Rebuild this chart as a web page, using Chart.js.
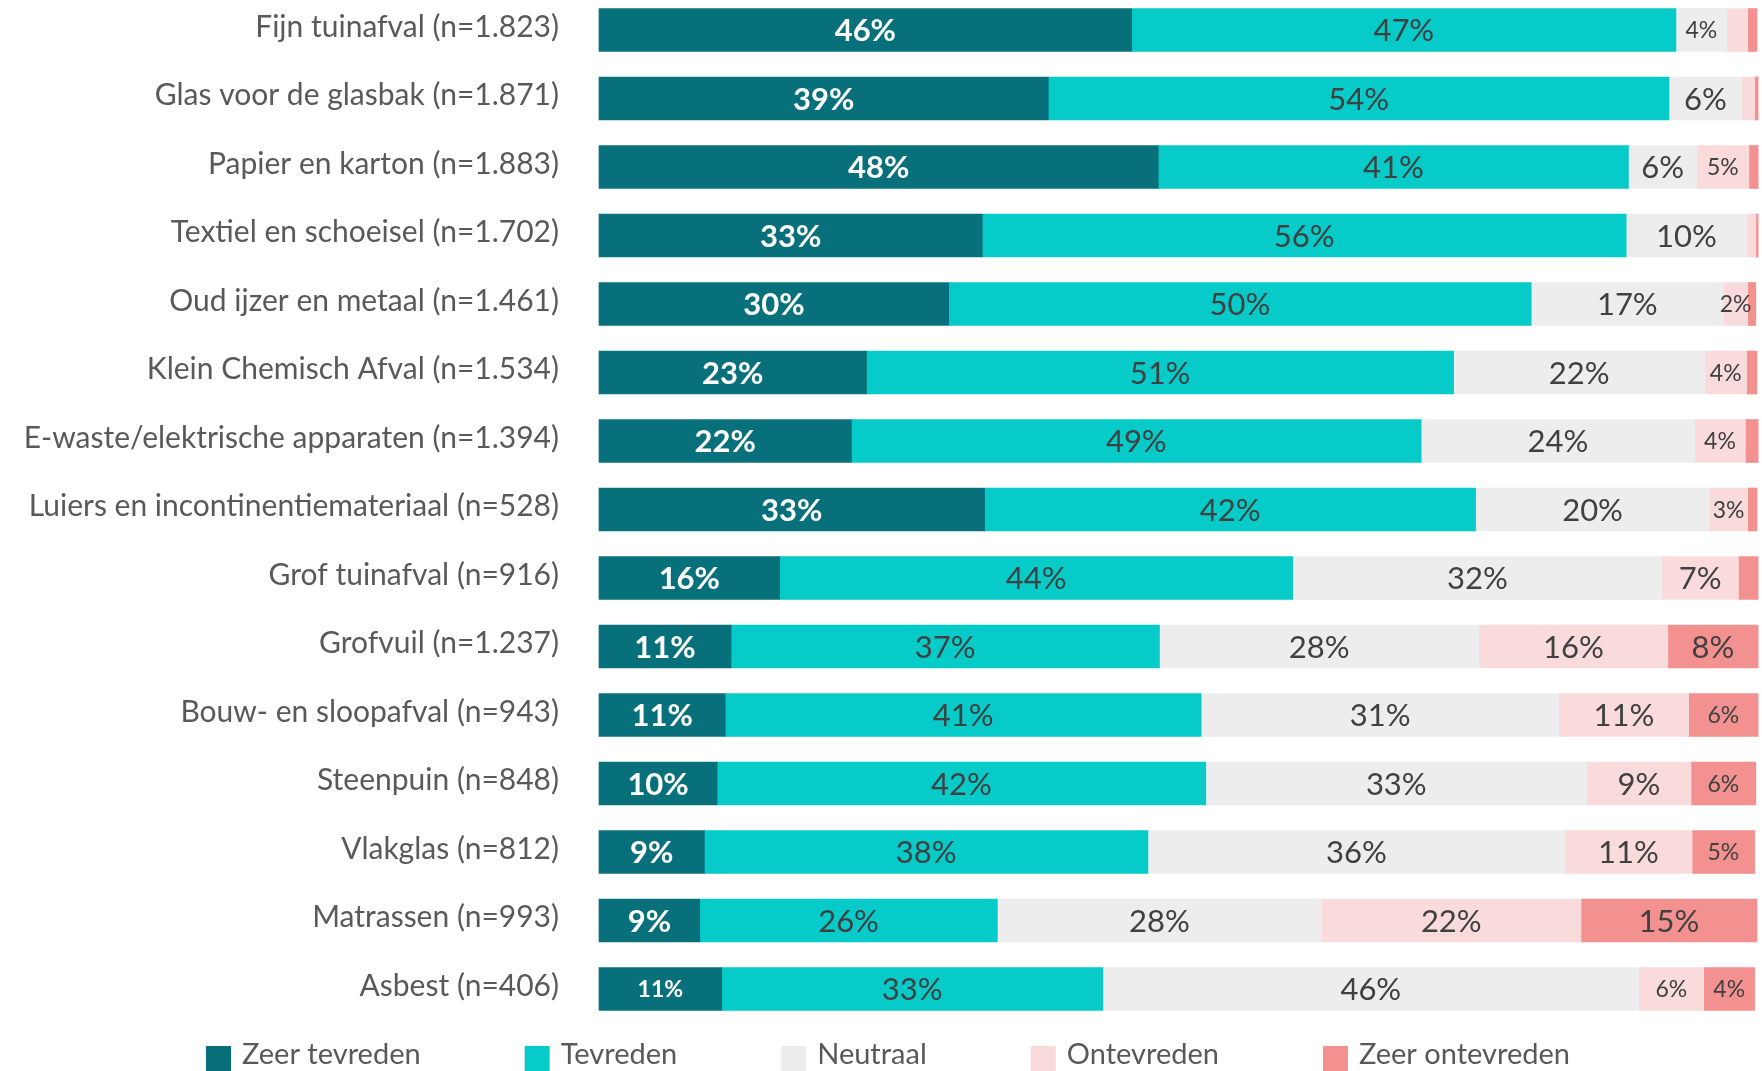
<!DOCTYPE html>
<html>
<head>
<meta charset="utf-8">
<script src="https://cdn.jsdelivr.net/npm/chart.js@4.4.1/dist/chart.umd.min.js"></script>
<style>
  html, body { margin: 0; padding: 0; background: #fff; }
  #wrap { width: 1762px; height: 1071px; position: relative; }
</style>
</head>
<body>
<div id="wrap"><canvas id="grafiek"></canvas></div>
<script>
const CATEGORIES = [
  "Fijn tuinafval (n=1.823)",
  "Glas voor de glasbak (n=1.871)",
  "Papier en karton (n=1.883)",
  "Textiel en schoeisel (n=1.702)",
  "Oud ijzer en metaal (n=1.461)",
  "Klein Chemisch Afval (n=1.534)",
  "E-waste/elektrische apparaten (n=1.394)",
  "Luiers en incontinentiemateriaal (n=528)",
  "Grof tuinafval (n=916)",
  "Grofvuil (n=1.237)",
  "Bouw- en sloopafval (n=943)",
  "Steenpuin (n=848)",
  "Vlakglas (n=812)",
  "Matrassen (n=993)",
  "Asbest (n=406)"
];

const ZEER_TEVREDEN   = [46.0, 38.8, 48.3, 33.1, 30.2, 23.1, 21.8, 33.3, 15.6, 11.4, 10.9, 10.2, 9.1, 8.7, 10.6];
const TEVREDEN        = [47.0, 53.6, 40.6, 55.6, 50.3, 50.7, 49.2, 42.4, 44.3, 37.0, 41.1, 42.2, 38.3, 25.7, 32.9];
const NEUTRAAL        = [4.4, 6.3, 5.9, 10.4, 16.6, 21.7, 23.6, 20.2, 31.9, 27.6, 30.9, 32.9, 36.0, 28.0, 46.3];
const ONTEVREDEN      = [1.8, 1.1, 4.5, 0.8, 2.1, 3.6, 4.4, 3.3, 6.6, 16.3, 11.2, 9.0, 11.0, 22.4, 5.6];
const ZEER_ONTEVREDEN = [0.8, 0.3, 0.8, 0.2, 0.7, 0.9, 1.1, 0.8, 1.7, 7.8, 6.0, 5.6, 5.4, 15.2, 4.4];

const SERIES = ["Zeer tevreden", "Tevreden", "Neutraal", "Ontevreden", "Zeer ontevreden"];
const COLORS = ["#08707b", "#06cbc8", "#ededed", "#fadbdc", "#f39190"];

// labels die in het origineel kleiner staan ("rij-reeks")
const KLEINE_LABELS = ["0-2", "2-3", "4-3", "5-3", "6-3", "7-3", "10-4", "11-4", "12-4", "14-0", "14-3", "14-4"];

const FONT = "Lato, 'Open Sans', sans-serif";

const waarden = [ZEER_TEVREDEN, TEVREDEN, NEUTRAAL, ONTEVREDEN, ZEER_ONTEVREDEN];

const datasets = SERIES.map((s, i) => ({
  label: s,
  data: waarden[i],
  backgroundColor: COLORS[i],
  borderWidth: 0,
  barThickness: 43,
  clip: false
}));

// percentages in de balken
const labelsPlugin = {
  id: "balkLabels",
  afterDatasetsDraw(chart) {
    const ctx = chart.ctx;
    ctx.save();
    ctx.textAlign = "center";
    ctx.textBaseline = "middle";
    chart.data.datasets.forEach((ds, di) => {
      const meta = chart.getDatasetMeta(di);
      meta.data.forEach((bar, ri) => {
        const v = ds.data[ri];
        if (v < 2) return;
        const klein = KLEINE_LABELS.includes(ri + "-" + di);
        const size = klein ? 23 : 31;
        ctx.font = (di === 0 ? "bold " : "") + size + "px " + FONT;
        ctx.fillStyle = di === 0 ? "#ffffff" : "#404040";
        const x = (bar.base + bar.x) / 2;
        ctx.fillText(Math.round(v) + "%", x, bar.y + 1);
      });
    });
    ctx.restore();
  }
};

// legenda onderaan
const legendaPlugin = {
  id: "legenda",
  afterDraw(chart) {
    const ctx = chart.ctx;
    ctx.save();
    ctx.font = "29px " + FONT;
    ctx.textBaseline = "alphabetic";
    let x = 206;
    SERIES.forEach((s, i) => {
      ctx.fillStyle = COLORS[i];
      ctx.fillRect(x, 1046, 25, 25);
      ctx.fillStyle = "#595959";
      ctx.fillText(s, x + 36, 1064);
      x += 36 + ctx.measureText(s).width + 104;
    });
    ctx.restore();
  }
};

new Chart(document.getElementById("grafiek"), {
  type: "bar",
  data: { labels: CATEGORIES, datasets },
  options: {
    indexAxis: "y",
    responsive: true,
    maintainAspectRatio: false,
    animation: false,
    layout: { padding: { top: 30, bottom: 82, right: 5, left: 0 } },
    plugins: {
      legend: { display: false },
      tooltip: { enabled: false }
    },
    scales: {
      x: {
        stacked: true,
        min: 0,
        max: 100,
        display: false
      },
      y: {
        stacked: true,
        offset: false,
        grid: { display: false },
        border: { display: false },
        ticks: {
          padding: 32,
          labelOffset: -3,
          color: "#595959",
          font: { family: FONT, size: 30 }
        },
        afterFit(scale) {
          scale.width = 599;
          scale.paddingTop = 0;
          scale.paddingBottom = 0;
        }
      }
    }
  },
  plugins: [labelsPlugin, legendaPlugin]
});
</script>
</body>
</html>
